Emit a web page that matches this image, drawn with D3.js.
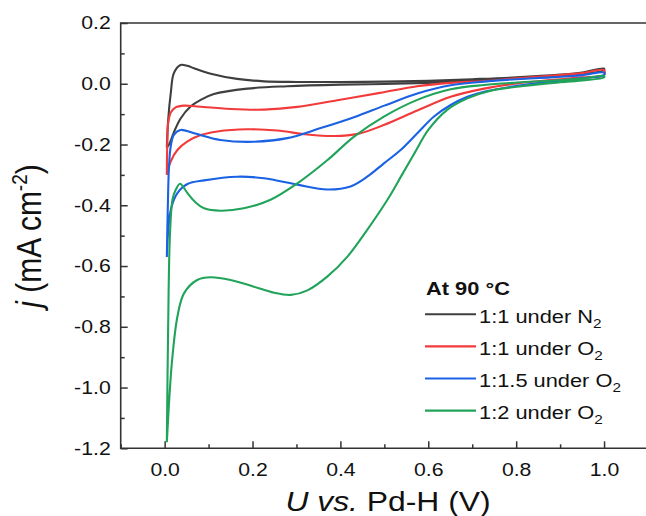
<!DOCTYPE html>
<html><head><meta charset="utf-8">
<script src="https://cdn.jsdelivr.net/npm/d3@7"></script>
<style>body{margin:0;background:#fff}svg{display:block}text{font-family:"Liberation Sans",Arial,sans-serif}</style>
</head><body><svg id="c" width="646" height="516"></svg>
<script>
// ---- data: [U (V), j (mA cm^-2)] ----
const xTicks = [0.0, 0.2, 0.4, 0.6, 0.8, 1.0];
const yTicks = [0.2, 0.0, -0.2, -0.4, -0.6, -0.8, -1.0, -1.2];
const seriesNames = ["1:1 under N", "1:1 under O", "1:1.5 under O", "1:2 under O"];
const seriesSubs = ["2", "2", "2", "2"];
const seriesColors = ["#3f3f3f", "#f23a3a", "#1a62e3", "#21a35a"];

const n2Upper = [[0.005,-0.21],[0.008,-0.12],[0.014,-0.03],[0.021,0.035],[0.036,0.062],[0.052,0.059],[0.067,0.051],[0.105,0.033],[0.165,0.016],[0.226,0.008],[0.3,0.006],[0.4,0.006],[0.5,0.007],[0.6,0.01],[0.7,0.015],[0.8,0.021],[0.9,0.03],[0.95,0.037],[1.0,0.05]];
const n2Lower = [[0.005,-0.21],[0.01,-0.2],[0.021,-0.16],[0.036,-0.115],[0.059,-0.075],[0.082,-0.053],[0.112,-0.034],[0.188,-0.016],[0.279,-0.008],[0.4,-0.003],[0.5,-0.001],[0.6,0.003],[0.7,0.009],[0.8,0.017],[0.9,0.026],[1.0,0.045]];

const r11Upper = [[0.005,-0.30],[0.006,-0.2],[0.008,-0.13],[0.014,-0.095],[0.025,-0.078],[0.044,-0.072],[0.074,-0.075],[0.15,-0.083],[0.226,-0.085],[0.302,-0.076],[0.393,-0.054],[0.49,-0.03],[0.575,-0.008],[0.651,0.003],[0.727,0.009],[0.802,0.018],[0.878,0.026],[0.95,0.035],[1.0,0.045]];
const r11Lower = [[0.005,-0.30],[0.014,-0.255],[0.029,-0.218],[0.052,-0.19],[0.082,-0.169],[0.12,-0.157],[0.188,-0.150],[0.256,-0.154],[0.325,-0.167],[0.385,-0.172],[0.44,-0.165],[0.5,-0.135],[0.575,-0.088],[0.651,-0.043],[0.727,-0.016],[0.802,0.001],[0.878,0.012],[0.95,0.021],[1.0,0.029]];

const r15Upper = [[0.005,-0.57],[0.007,-0.42],[0.01,-0.27],[0.014,-0.205],[0.021,-0.168],[0.036,-0.152],[0.067,-0.163],[0.127,-0.185],[0.203,-0.191],[0.279,-0.179],[0.355,-0.146],[0.431,-0.11],[0.5,-0.072],[0.575,-0.032],[0.651,-0.005],[0.727,0.007],[0.802,0.015],[0.878,0.021],[0.95,0.028],[1.0,0.037]];
const r15Lower = [[0.005,-0.57],[0.014,-0.415],[0.029,-0.36],[0.052,-0.33],[0.09,-0.318],[0.165,-0.306],[0.226,-0.311],[0.302,-0.332],[0.37,-0.348],[0.423,-0.338],[0.461,-0.306],[0.499,-0.262],[0.537,-0.218],[0.575,-0.163],[0.613,-0.108],[0.651,-0.07],[0.689,-0.043],[0.727,-0.026],[0.802,-0.007],[0.878,0.007],[0.95,0.018],[1.0,0.029]];

const r2Upper = [[0.005,-1.18],[0.008,-0.8],[0.012,-0.5],[0.018,-0.38],[0.025,-0.35],[0.035,-0.329],[0.052,-0.36],[0.07,-0.39],[0.09,-0.41],[0.127,-0.418],[0.18,-0.41],[0.241,-0.382],[0.302,-0.328],[0.37,-0.252],[0.431,-0.174],[0.499,-0.108],[0.575,-0.053],[0.651,-0.018],[0.727,-0.004],[0.802,0.004],[0.878,0.01],[0.95,0.017],[1.0,0.026]];
const r2Lower = [[0.005,-1.18],[0.01,-1.05],[0.017,-0.91],[0.029,-0.767],[0.044,-0.69],[0.074,-0.646],[0.105,-0.637],[0.15,-0.646],[0.203,-0.668],[0.249,-0.688],[0.287,-0.695],[0.325,-0.68],[0.37,-0.635],[0.416,-0.569],[0.461,-0.481],[0.507,-0.382],[0.54,-0.3],[0.57,-0.225],[0.6,-0.152],[0.643,-0.086],[0.689,-0.048],[0.742,-0.023],[0.802,-0.01],[0.878,0.002],[0.95,0.011],[1.0,0.021]];

const loops = [[n2Upper,n2Lower],[r11Upper,r11Lower],[r15Upper,r15Lower],[r2Upper,r2Lower]];

// ---- drawing ----
const SX = 1.18; // horizontal glyph stretch seen in the reference
const svg = d3.select("#c");
const L = 120.7, R = 648, T = 23, B = 448.3;
const x = d3.scaleLinear().domain([-0.1, 1.1]).range([L, R]);
const y = d3.scaleLinear().domain([-1.2, 0.2]).range([B, T]);
const axisCol = "#333";
const txtCol = "#111";

const line = d3.line().x(d => x(d[0])).y(d => y(d[1])).curve(d3.curveCatmullRom.alpha(0.5));
const g = svg.append("g");
loops.forEach((lp, i) => {
  const pts = lp[0].concat(lp[1].slice().reverse());
  g.append("path").attr("d", line(pts)).attr("fill", "none")
    .attr("stroke", seriesColors[i]).attr("stroke-width", 2.1).attr("stroke-linejoin","round");
});

// frame
svg.append("path").attr("d", `M${R},${T}H${L}V${B}H${R}`).attr("fill","none").attr("stroke",axisCol).attr("stroke-width",1.6);

const fmt = d => d.toFixed(1);

// x axis (inward ticks)
const xMinor = d3.range(-0.1, 1.11, 0.1).map(v => +v.toFixed(2)).filter(v => !xTicks.some(t => Math.abs(t - v) < 1e-6));
const xa = svg.append("g").attr("transform", `translate(0,${B})`)
  .call(d3.axisBottom(x).tickValues(xTicks).tickSize(-7).tickPadding(15).tickFormat(fmt));
xa.select(".domain").remove();
xa.selectAll(".tick line").attr("stroke", axisCol).attr("stroke-width", 1.5);
xa.selectAll(".tick text").attr("font-size", 18).attr("fill", txtCol)
  .attr("font-family", '"Liberation Sans",Arial,sans-serif')
  .attr("y", null).attr("transform", `translate(0,15) scale(${SX},1)`);
const xm = svg.append("g").attr("transform", `translate(0,${B})`)
  .call(d3.axisBottom(x).tickValues(xMinor).tickSize(-4).tickFormat(""));
xm.select(".domain").remove();
xm.selectAll(".tick line").attr("stroke", axisCol).attr("stroke-width", 1.5);

// y axis (inward ticks)
const yMinor = d3.range(-1.1, 0.2, 0.2).map(v => +v.toFixed(2));
const ya = svg.append("g").attr("transform", `translate(${L},0)`)
  .call(d3.axisLeft(y).tickValues(yTicks).tickSize(-7).tickPadding(10).tickFormat(fmt));
ya.select(".domain").remove();
ya.selectAll(".tick line").attr("stroke", axisCol).attr("stroke-width", 1.5);
ya.selectAll(".tick text").attr("font-size", 18).attr("fill", txtCol)
  .attr("font-family", '"Liberation Sans",Arial,sans-serif')
  .attr("x", null).attr("transform", `translate(-10,0) scale(${SX},1)`);
const ym = svg.append("g").attr("transform", `translate(${L},0)`)
  .call(d3.axisLeft(y).tickValues(yMinor).tickSize(-4).tickFormat(""));
ym.select(".domain").remove();
ym.selectAll(".tick line").attr("stroke", axisCol).attr("stroke-width", 1.5);

// axis titles
const xt = svg.append("text").attr("transform", `translate(388,511) scale(${SX},1)`)
  .attr("text-anchor","middle").attr("font-size", 27).attr("fill",txtCol);
xt.append("tspan").attr("font-style","italic").text("U vs.");
xt.append("tspan").text(" Pd-H (V)");

const yt = svg.append("text").attr("transform", `translate(41,236) scale(${SX},1) rotate(-90)`)
  .attr("text-anchor","middle").attr("font-size", 30).attr("fill",txtCol);
yt.append("tspan").attr("font-style","italic").text("j");
yt.append("tspan").text(" (mA cm");
yt.append("tspan").attr("font-size", 19).attr("dy", -12).text("-2");
yt.append("tspan").attr("dy", 12).text(")");

// legend
const lg = svg.append("g");
lg.append("text").attr("transform", `translate(426,295) scale(${SX},1)`)
  .attr("font-size", 18.5).attr("font-weight","bold").attr("fill",txtCol).text("At 90 °C");
seriesNames.forEach((nm, i) => {
  const yy = 314.3 + i * 32.1;
  lg.append("line").attr("x1", 425).attr("x2", 476).attr("y1", yy).attr("y2", yy)
    .attr("stroke", seriesColors[i]).attr("stroke-width", 2.1);
  const t = lg.append("text").attr("transform", `translate(479,${yy + 8.5}) scale(${SX},1)`)
    .attr("font-size", 18.5).attr("fill",txtCol);
  t.append("tspan").text(nm);
  t.append("tspan").attr("font-size", 13).attr("dy", 5).text(seriesSubs[i]);
});
</script></body></html>
